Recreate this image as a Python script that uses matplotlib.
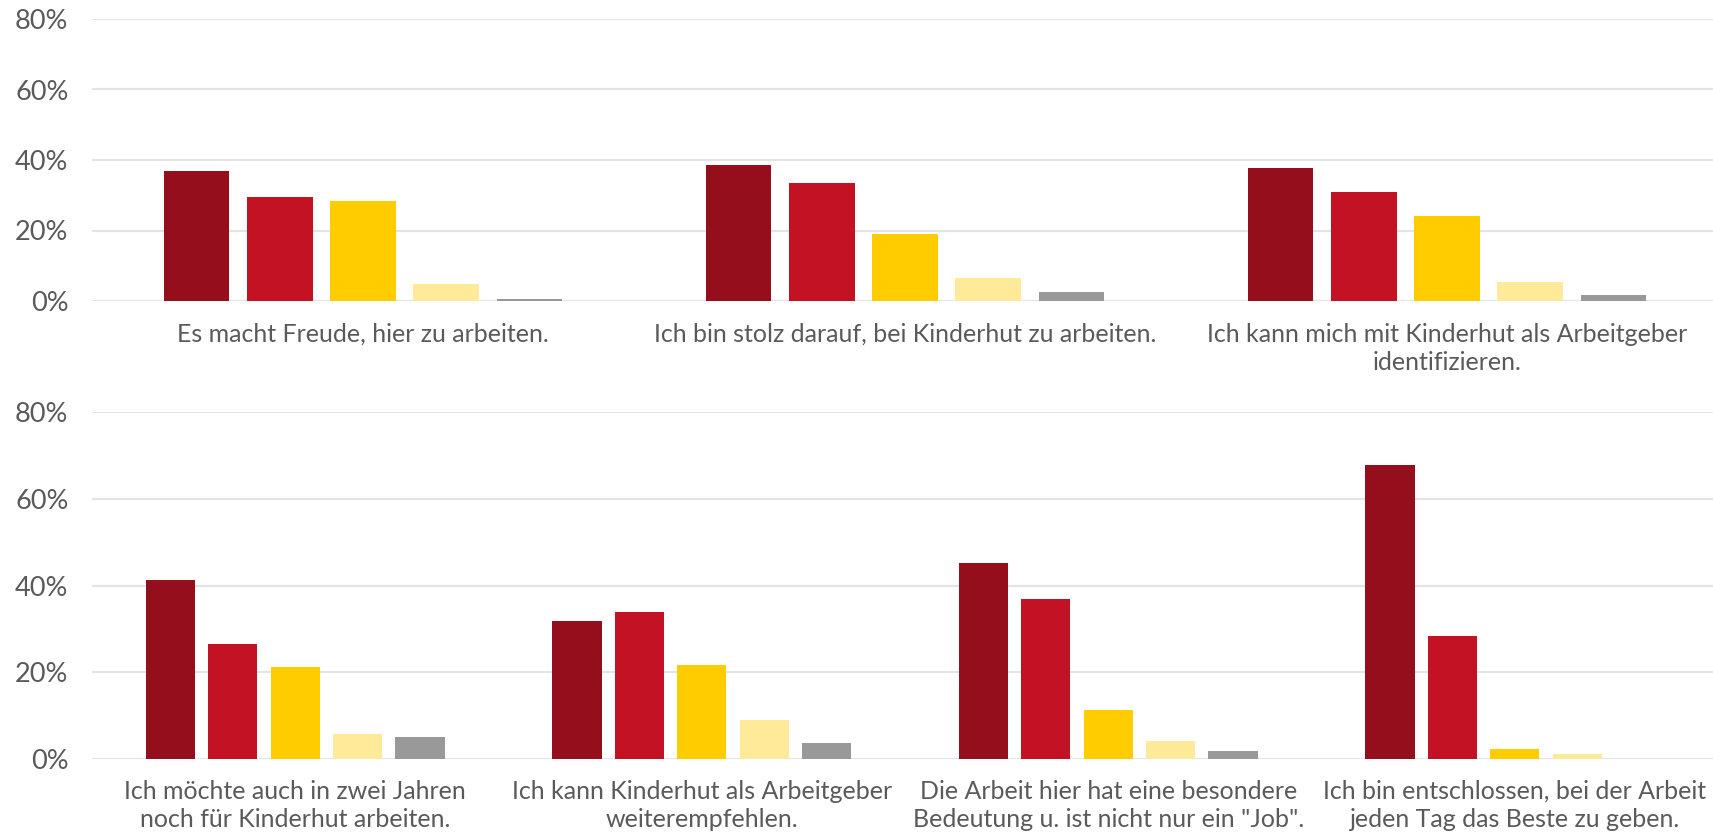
import matplotlib
matplotlib.use("Agg")
import matplotlib.pyplot as plt
from matplotlib.ticker import FuncFormatter
import matplotlib.transforms as mtransforms
import numpy as np

# ---------------- data ----------------
top_categories = [
    "Es macht Freude, hier zu arbeiten.",
    "Ich bin stolz darauf, bei Kinderhut zu arbeiten.",
    "Ich kann mich mit Kinderhut als Arbeitgeber\nidentifizieren.",
]
top_values = [
    [36.8, 29.5, 28.4, 4.8, 0.6],
    [38.5, 33.4, 19.1, 6.4, 2.5],
    [37.6, 30.8, 24.0, 5.4, 1.7],
]
bottom_categories = [
    "Ich möchte auch in zwei Jahren\nnoch für Kinderhut arbeiten.",
    "Ich kann Kinderhut als Arbeitgeber\nweiterempfehlen.",
    "Die Arbeit hier hat eine besondere\nBedeutung u. ist nicht nur ein \"Job\".",
    "Ich bin entschlossen, bei der Arbeit\njeden Tag das Beste zu geben.",
]
bottom_values = [
    [41.2, 26.4, 21.2, 5.8, 5.1],
    [31.8, 33.8, 21.6, 8.9, 3.6],
    [45.1, 37.0, 11.4, 4.2, 1.8],
    [67.8, 28.4, 2.3, 1.1, 0.0],
]
y_ticks = [0, 20, 40, 60, 80]

# ---------------- style / layout ----------------
colors = ["#940E1C", "#C41225", "#FFCC00", "#FFEA9A", "#999999"]
text_color = "#5A5A5A"
grid_color = "#E4E4E4"
plt.rcParams["font.family"] = ["Lato", "DejaVu Sans"]

W, H = 1713, 832
fig = plt.figure(figsize=(W / 100, H / 100), dpi=100)

PITCH = 0.1535   # distance between bars within a category (category units)
BAR_W = 0.1208   # bar width (category units)
left_px, right_px = 92, 1713


def draw_row(cats, vals, group_px, y0, y80, label_pad):
    n = len(cats)
    ax = fig.add_axes([left_px / W, 1 - y0 / H, (right_px - left_px) / W, (y0 - y80) / H])
    x = np.arange(n)
    arr = np.array(vals)
    for i in range(arr.shape[1]):
        ax.bar(x + (i - 2) * PITCH, arr[:, i], width=BAR_W, color=colors[i],
               edgecolor="none", zorder=3)
    trans = mtransforms.blended_transform_factory(ax.transData, ax.transAxes)
    offset = mtransforms.ScaledTranslation(0, -label_pad / 72, fig.dpi_scale_trans)
    for g, c in enumerate(cats):
        ax.text(g, 0, c, transform=trans + offset, ha="center", va="top",
                fontsize=18, color=text_color, linespacing=1.27)
    ax.set_xlim(-0.5, (right_px - left_px) / group_px - 0.5)
    ax.set_ylim(0, 80)
    ax.set_yticks(y_ticks)
    ax.yaxis.set_major_formatter(FuncFormatter(lambda v, p: f"{int(v)}%"))
    ax.tick_params(axis="y", length=0, pad=17, labelsize=19.5, labelcolor=text_color)
    ax.set_xticks([])
    ax.yaxis.grid(True, color=grid_color, linewidth=1.6, zorder=0)
    ax.set_axisbelow(True)
    for s in ax.spines.values():
        s.set_visible(False)
    ax.patch.set_alpha(0)
    return ax


draw_row(top_categories, top_values, 542.0, 301, 19, 15.5)
draw_row(bottom_categories, bottom_values, 406.5, 759, 412, 15)

fig.savefig("out.png", dpi=100, facecolor="white")
